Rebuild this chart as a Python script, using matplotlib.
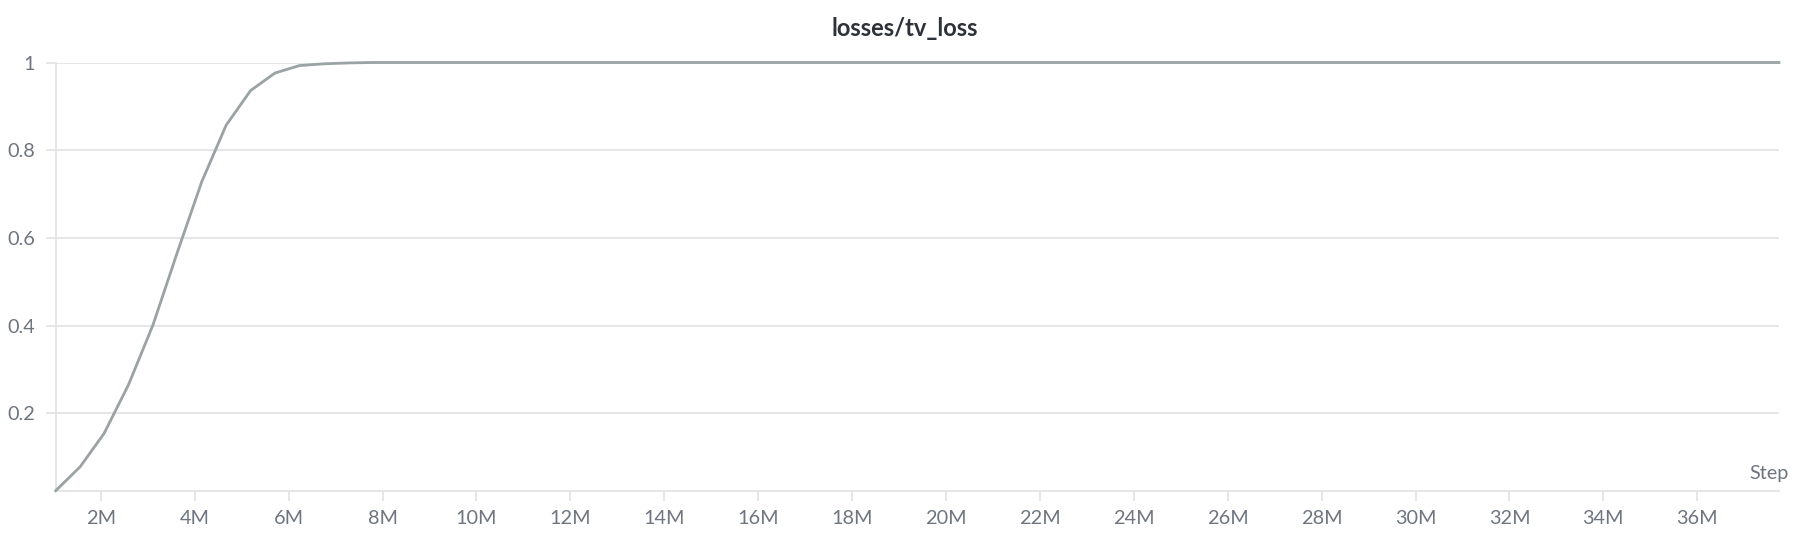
import numpy as np
import matplotlib.pyplot as plt
from matplotlib.ticker import FuncFormatter

# values (step in millions)
steps = [1.04, 1.56, 2.07, 2.59, 3.11, 3.63, 4.15, 4.67, 5.19, 5.71, 6.23, 6.75, 7.27, 7.79, 37.74]
tv_loss = [0.0235, 0.078, 0.154, 0.265, 0.401, 0.567, 0.728, 0.857, 0.936, 0.976, 0.993, 0.997, 0.999, 1.0, 1.0]
x_ticks = list(range(2, 38, 2))
y_ticks = [0.2, 0.4, 0.6, 0.8, 1.0]

plt.rcParams['font.family'] = ['Lato', 'DejaVu Sans']

fig = plt.figure(figsize=(18.08, 5.35), dpi=100)
ax = fig.add_axes([55.7/1808, 1 - 490.7/535, (1779 - 55.7)/1808, (490.7 - 62.5)/535])

ax.plot(steps, tv_loss, color='#9aa2a4', lw=2, clip_on=False, zorder=3)

ax.set_xlim(1.04, 37.74)
ax.set_ylim(0.0235, 1.0)
ax.set_xticks(x_ticks)
ax.set_yticks(y_ticks)
ax.xaxis.set_major_formatter(FuncFormatter(lambda v, p: '%dM' % v))
ax.yaxis.set_major_formatter(FuncFormatter(lambda v, p: '1' if v == 1 else '%g' % v))

ax.grid(axis='y', color='#e2e2e2', lw=1.2)
ax.set_axisbelow(True)
for s in ['top', 'right']:
    ax.spines[s].set_visible(False)
for s in ['left', 'bottom']:
    ax.spines[s].set_color('#e2e2e2')
    ax.spines[s].set_linewidth(1.2)
ax.tick_params(axis='both', colors='#e2e2e2', labelcolor='#6e7580', labelsize=14.3,
               length=7, width=1.2)
ax.tick_params(axis='y', pad=8)
ax.tick_params(axis='x', pad=7)

fig.text(904.7/1808, 1 - 28/535, 'losses/tv_loss', ha='center', va='center',
         fontsize=17, fontweight='bold', color='#2d3138')
fig.text(1789/1808, 1 - 479/535, 'Step', ha='right', va='baseline',
         fontsize=14.3, color='#6e7580')

fig.savefig('out.png', dpi=100, facecolor='white')
